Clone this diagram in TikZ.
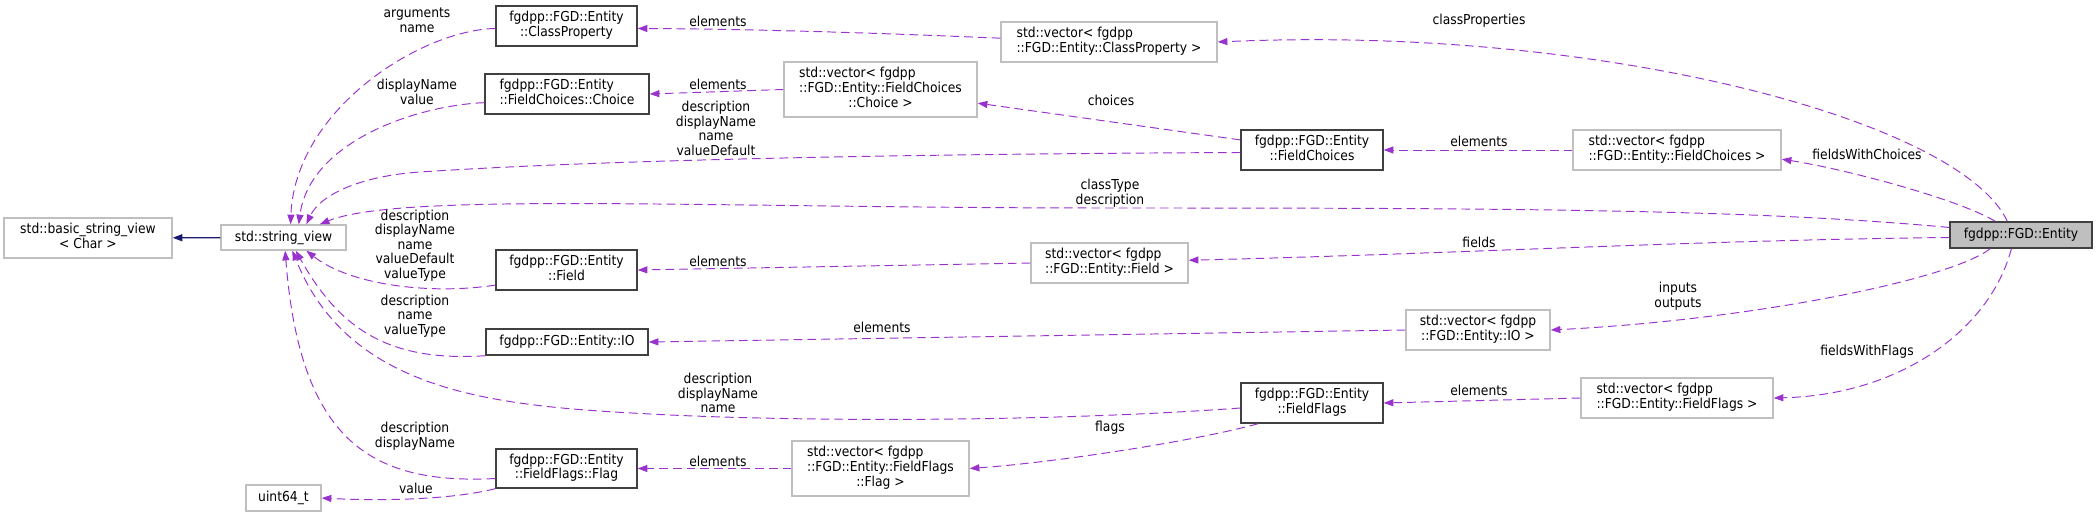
\documentclass[tikz,border=0pt]{standalone}
\usepackage{fontspec}
\usetikzlibrary{arrows.meta}
\newfontfamily\dxfont{DejaVu Sans Condensed}
\newcommand{\dx}{\dxfont\fontsize{7.8}{8.3}\selectfont}
% first lines left, last line centred
\newcommand{\vl}[2]{\begin{tabular}{@{}l@{}}#1\\\multicolumn{1}{@{}c@{}}{#2}\end{tabular}}
\definecolor{edgepurple}{HTML}{9A32CD}
\definecolor{inhnavy}{HTML}{191970}
\definecolor{boxgray}{HTML}{BFBFBF}
\definecolor{boxdark}{HTML}{404040}
\begin{document}
\begin{tikzpicture}[x=0.02cm,y=-0.02cm,>={Triangle[length=5.5pt,width=4pt]},
  ext/.style={rectangle,draw=boxgray,fill=white,line width=0.8pt,inner sep=0pt,font=\dx},
  cls/.style={ext,draw=boxdark},
  sz/.style 2 args={minimum width=#1*0.02cm,minimum height=#2*0.02cm},
  dep/.style={->,color=edgepurple,dash pattern=on 5pt off 2.8pt,line width=0.55pt},
  inh/.style={->,color=inhnavy,line width=0.7pt},
  lbl/.style={font=\dx,align=center,inner sep=0pt,text=black}]
\useasboundingbox (0,0) rectangle (2097,517);
\node[ext, sz={168}{40}] (bsv) at (88,238) {\vl{std::basic\_string\_view}{< Char >}};
\node[ext, sz={125}{25}] (sv) at (283.5,237.5) {std::string\_view};
\node[cls, sz={141}{40}] (cprop) at (566.5,26) {\vl{fgdpp::FGD::Entity}{::ClassProperty}};
\node[cls, sz={164}{40}] (choice) at (567,94) {\vl{fgdpp::FGD::Entity}{::FieldChoices::Choice}};
\node[cls, sz={141}{40}] (field) at (566.5,270) {\vl{fgdpp::FGD::Entity}{::Field}};
\node[cls, sz={162}{26}] (io) at (567,342) {fgdpp::FGD::Entity::IO};
\node[cls, sz={141}{39}] (flag) at (566.5,468.5) {\vl{fgdpp::FGD::Entity}{::FieldFlags::Flag}};
\node[ext, sz={75}{26}] (u64) at (283.5,498) {uint64\_t};
\node[ext, sz={216}{40}] (vcprop) at (1109,42) {\vl{std::vector< fgdpp}{::FGD::Entity::ClassProperty >}};
\node[ext, sz={193}{55}] (vchoice) at (880.5,89.5) {\vl{std::vector< fgdpp\\::FGD::Entity::FieldChoices}{::Choice >}};
\node[cls, sz={142}{40}] (fchoices) at (1312,150) {\vl{fgdpp::FGD::Entity}{::FieldChoices}};
\node[ext, sz={157}{40}] (vfield) at (1109.5,263) {\vl{std::vector< fgdpp}{::FGD::Entity::Field >}};
\node[cls, sz={142}{40}] (fflags) at (1312,403) {\vl{fgdpp::FGD::Entity}{::FieldFlags}};
\node[ext, sz={177}{55}] (vflag) at (880.5,468.5) {\vl{std::vector< fgdpp\\::FGD::Entity::FieldFlags}{::Flag >}};
\node[ext, sz={208}{40}] (vfchoices) at (1677,150) {\vl{std::vector< fgdpp}{::FGD::Entity::FieldChoices >}};
\node[cls, fill=boxgray, sz={142}{26}] (entity) at (2021,235) {fgdpp::FGD::Entity};
\node[ext, sz={144}{40}] (vio) at (1478,330) {\vl{std::vector< fgdpp}{::FGD::Entity::IO >}};
\node[ext, sz={192}{40}] (vfflags) at (1677,398) {\vl{std::vector< fgdpp}{::FGD::Entity::FieldFlags >}};
% inheritance
\draw[inh] (sv) -- (bsv);
% members of Entity
\draw[dep] (entity.135) .. controls (1960,120) and (1600,25) .. (vcprop.east) node[lbl, at={(1479,21)}] {classProperties};
\draw[dep] (entity.152) .. controls (1960,200) and (1850,170) .. (vfchoices.-5) node[lbl, at={(1867,154)}] {fieldsWithChoices};
\draw[dep] (entity.174) .. controls (1750,209) and (1500,208) .. (1110,208) .. controls (700,208) and (400,192) .. (sv.20) node[lbl, at={(1110,193)}] {classType\\description};
\draw[dep] (entity.182) .. controls (1700,240) and (1450,254) .. (vfield.2) node[lbl, at={(1479,242)}] {fields};
\draw[dep] (entity.204) .. controls (1950,280) and (1750,320) .. (vio.east) node[lbl, at={(1678,296.5)}] {inputs\\outputs};
\draw[dep] (entity.235) .. controls (1990,330) and (1900,395) .. (vfflags.east) node[lbl, at={(1867,352)}] {fieldsWithFlags};
% vectors to their elements
\draw[dep] (vcprop.178) .. controls (880,33) and (750,29) .. (cprop.-2) node[lbl, at={(718,21)}] {elements};
\draw[dep] (vchoice.west) -- (choice.east) node[lbl, at={(718,84)}] {elements};
\draw[dep] (fchoices.172) -- (vchoice.-8) node[lbl, at={(1111,100)}] {choices};
\draw[dep] (vfchoices.west) -- (fchoices.east) node[lbl, at={(1479,141)}] {elements};
\draw[dep] (vfield.west) -- (field.east) node[lbl, at={(718,261)}] {elements};
\draw[dep] (vio.west) -- (io.east) node[lbl, at={(882,327)}] {elements};
\draw[dep] (vfflags.west) -- (fflags.east) node[lbl, at={(1479,390)}] {elements};
\draw[dep] (fflags.201) .. controls (1200,440) and (1060,462) .. (vflag.east) node[lbl, at={(1110,428)}] {flags};
\draw[dep] (vflag.west) -- (flag.east) node[lbl, at={(718,461)}] {elements};
% string members
\draw[dep] (cprop.182) .. controls (420,30) and (295,110) .. (sv.62) node[lbl, at={(417,20)}] {arguments\\name};
\draw[dep] (choice.186) .. controls (420,105) and (310,140) .. (sv.41) node[lbl, at={(417,92)}] {displayName\\value};
\draw[dep] (fchoices.182) .. controls (900,154) and (600,160) .. (420,172) .. controls (360,176) and (320,195) .. (sv.30) node[lbl, at={(716,128.5)}] {description\\displayName\\name\\valueDefault};
\draw[dep] (field.192) .. controls (430,295) and (350,285) .. (sv.-30) node[lbl, at={(415,245.5)}] {description\\displayName\\name\\valueDefault\\valueType};
\draw[dep] (io.south west) .. controls (390,362) and (340,330) .. (sv.-47) node[lbl, at={(415,316)}] {description\\name\\valueType};
\draw[dep] (fflags.184) .. controls (1050,422) and (800,422) .. (650,414) .. controls (500,406) and (350,395) .. (sv.-56) node[lbl, at={(718,393)}] {description\\displayName\\name};
\draw[dep] (flag.188) .. controls (370,485) and (300,440) .. (sv.-83) node[lbl, at={(415,436)}] {description\\displayName};
\draw[dep] (flag.south west) .. controls (450,500) and (380,501) .. (u64.east) node[lbl, at={(416,488)}] {value};
\end{tikzpicture}
\end{document}
